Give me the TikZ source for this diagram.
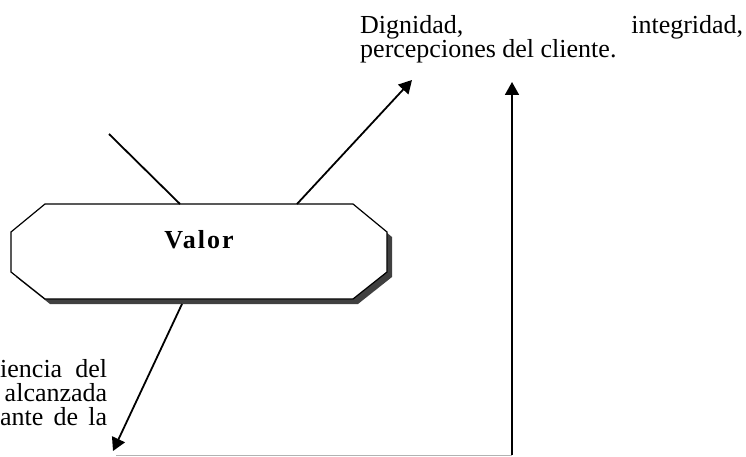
\documentclass[tikz,border=0pt]{standalone}
\usepackage{fontspec}
\setmainfont{Liberation Serif}
\usetikzlibrary{arrows.meta}
\begin{document}
\begin{tikzpicture}[x=1pt,y=-1pt,
  conn/.style={line width=1.8pt},
  arr/.style={conn,-{Triangle[length=13pt,width=14pt]}},
  txt/.style={inner sep=0pt,align=left,font=\fontsize{26}{24}\selectfont}]
\useasboundingbox (0,0) rectangle (746,457);
% octagon with shadow
\fill[black!75] (50,209) -- (358,209) -- (392,237) -- (392,277) -- (358,304) -- (50,304) -- (16,277) -- (16,237) -- cycle;
\draw[line width=1.2pt, fill=white] (45,204) -- (353,204) -- (387,232) -- (387,272) -- (353,299) -- (45,299) -- (11,272) -- (11,232) -- cycle;
\node[inner sep=0pt, font=\fontsize{26}{24}\selectfont\bfseries\addfontfeature{LetterSpace=8}] (valor) at (199,240) {Valor};
% connection points on the octagon
\coordinate (otl) at (180,204);
\coordinate (otr) at (297,204);
\coordinate (ob) at (182,304);
% free ends
\coordinate (s1) at (109,134);
\coordinate (t1) at (412,80);
\coordinate (t2) at (113,451);
\coordinate (b2) at (512,455);
\coordinate (t3) at (512,82);
% texts
\node[txt, anchor=base west] (dig) at (360,58) {\hbox to 383pt{Dignidad,\hfill integridad,}\\percepciones del cliente.};
\node[txt, anchor=base west] (eff) at (0,425) {\hbox to 107pt{iencia\hfill del}\\\hbox to 107pt{\hfill alcanzada}\\\hbox to 107pt{ante\hfill de\hfill la}};
% connectors
\draw[conn] (s1) -- (otl);
\draw[arr] (otr) -- (t1);
\draw[arr] (ob) -- (t2);
\draw[gray!60, line width=1pt] (116,455) -- (b2);
\draw[arr] (b2) -- (t3);
\end{tikzpicture}
\end{document}
